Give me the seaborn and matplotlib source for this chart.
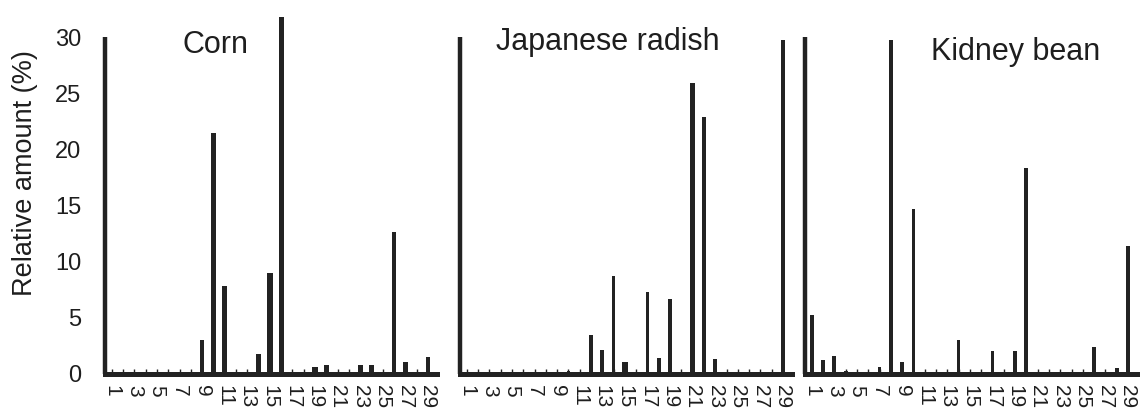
import matplotlib
matplotlib.use("Agg")
import matplotlib.pyplot as plt
import numpy as np
import pandas as pd
import seaborn as sns

# ---------------- data ----------------
compounds = list(range(1, 30))
tick_values = list(range(1, 30, 2))
tick_labels = [str(n) for n in tick_values]
panel_names = ["Corn", "Japanese radish", "Kidney bean"]

corn_values = [0.2, 0, 0, 0, 0, 0, 0, 0, 3.0, 21.5,
               7.8, 0, 0, 1.8, 9.0, 31.8, 0, 0, 0.65, 0.8,
               0, 0, 0.8, 0.8, 0.15, 12.6, 1.1, 0.15, 1.5]
radish_values = [0, 0, 0, 0, 0, 0, 0, 0, 0, 0.3,
                 0, 3.5, 2.1, 8.7, 1.1, 0, 7.3, 1.4, 6.7, 0,
                 25.9, 22.9, 1.3, 0, 0, 0, 0, 0, 29.7]
bean_values = [5.25, 1.25, 1.6, 0.3, 0, 0, 0.65, 29.7, 1.05, 14.7,
               0, 0, 0, 3.0, 0, 0, 2.05, 0, 2.05, 18.3,
               0, 0, 0, 0, 0, 2.4, 0, 0.5, 11.4]
y_ticks = [0, 5, 10, 15, 20, 25, 30]
y_label = "Relative amount (%)"

# ---------------- style ----------------
INK = "#222222"
TEXT = "#1e1e1e"
sns.set_theme(style="white")
plt.rcParams["font.family"] = ["Liberation Sans", "DejaVu Sans"]

W, H = 1140, 412
fig = plt.figure(figsize=(W / 100, H / 100), dpi=100)

panel_lefts = [105, 460, 805]
panel_width = 332
base_px = 374
top_px = 3.4
bar_width = [0.42, 0.32, 0.33]
wide_bars = [{15: 0.59, 19: 0.59, 20: 0.5},
             {15: 0.59, 21: 0.38},
             {20: 0.36}]
title_pos = [(0.333, 0.865), (0.446, 0.874), (0.633, 0.847)]

all_values = [corn_values, radish_values, bean_values]

for i, (name, vals) in enumerate(zip(panel_names, all_values)):
    ax = fig.add_axes([panel_lefts[i] / W, (H - base_px) / H,
                       panel_width / W, (base_px - top_px) / H])
    df = pd.DataFrame({"compound": compounds, "amount": vals})
    sns.barplot(data=df, x="compound", y="amount", native_scale=True,
                width=bar_width[i], color=INK, saturation=1, linewidth=0,
                errorbar=None, ax=ax)
    # widen some unresolved peaks
    for p in ax.patches:
        cx = p.get_x() + p.get_width() / 2
        k = int(round(cx))
        if k in wide_bars[i]:
            w = wide_bars[i][k]
            p.set_width(w)
            p.set_x(cx - w / 2)

    ax.set_xlim(0.4, 29.8)
    ax.set_ylim(0, 33)
    ax.set_xticks(tick_values)
    ax.set_xticklabels(tick_labels)
    ax.set_xticks(compounds, minor=True)
    ax.tick_params(axis="x", which="both", direction="in", length=3.5,
                   width=1, color=INK, pad=8, labelsize=15,
                   labelrotation=270, labelcolor=TEXT, bottom=True)
    ax.set_yticks(y_ticks)
    if i == 0:
        ax.tick_params(axis="y", length=0, pad=17, labelsize=17,
                       labelcolor=TEXT)
    else:
        ax.tick_params(axis="y", length=0, labelleft=False)
    ax.set_xlabel("")
    ax.set_ylabel("")
    for s in ["top", "right"]:
        ax.spines[s].set_visible(False)
    ax.spines["left"].set_bounds(0, 30)
    ax.spines["left"].set_linewidth(3.2)
    ax.spines["left"].set_color(INK)
    ax.spines["bottom"].set_linewidth(3.6)
    ax.spines["bottom"].set_color(INK)
    ax.spines["left"].set_capstyle("butt")
    ax.set_facecolor("none")
    ax.grid(False)
    ax.text(title_pos[i][0], title_pos[i][1], name, transform=ax.transAxes,
            ha="center", va="baseline", fontsize=22, color=TEXT)

fig.text(25 / W, 1 - 173.5 / H, y_label, rotation=90, ha="center",
         va="center", fontsize=19.5, color=TEXT)

fig.savefig("out.png", dpi=100, facecolor="white")
